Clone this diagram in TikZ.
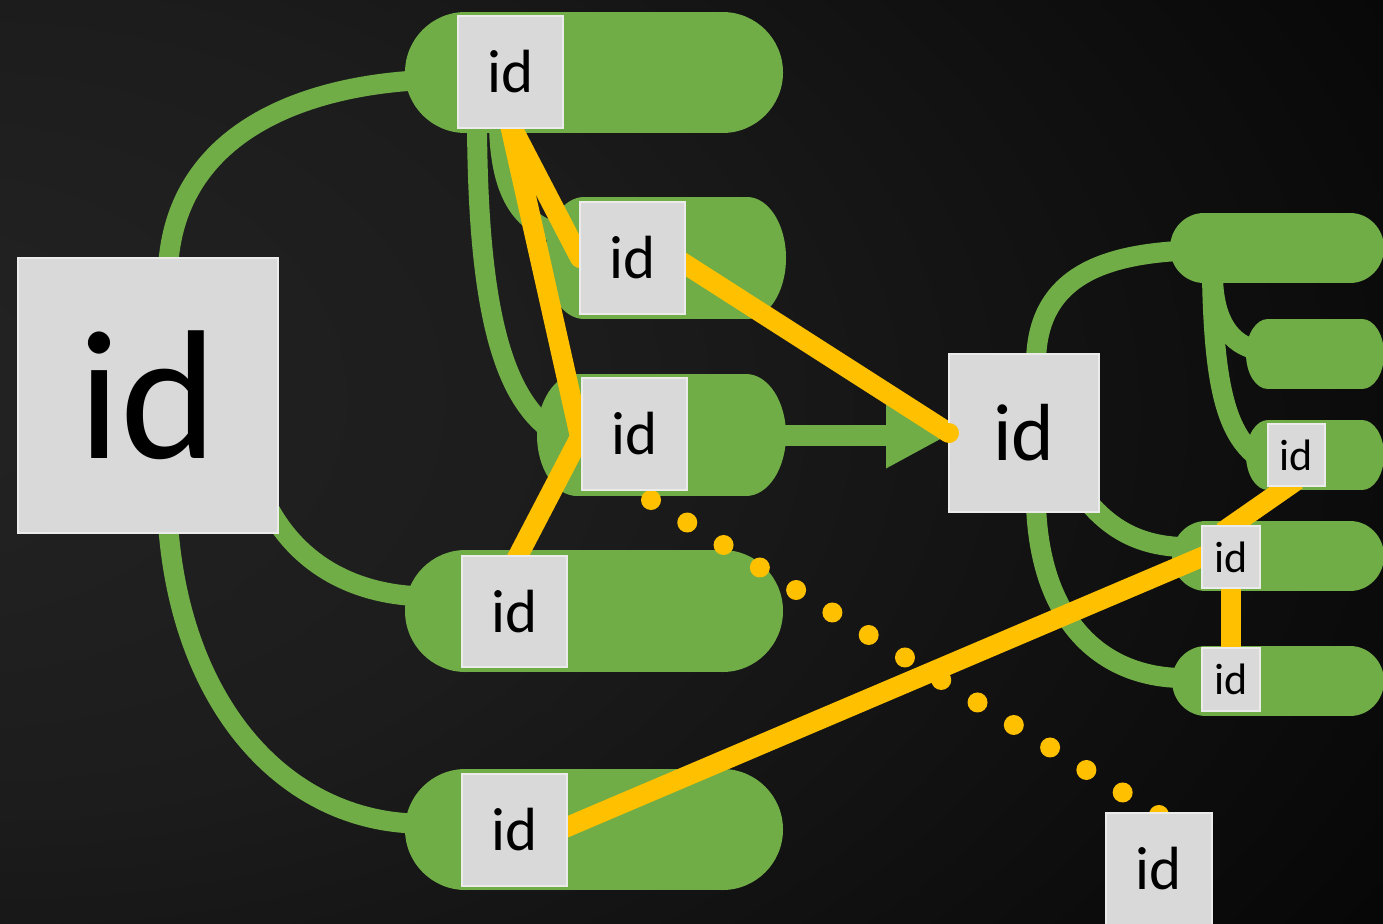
\documentclass[tikz,border=0pt]{standalone}
\usepackage{fontspec}
\setmainfont{Carlito}
\usetikzlibrary{calc,arrows.meta}
\pgfdeclarelayer{bgl}
\pgfdeclarelayer{greenl}
\pgfdeclarelayer{pilll}
\pgfdeclarelayer{yell}
\pgfdeclarelayer{topl}
\pgfsetlayers{bgl,greenl,pilll,yell,main,topl}
\definecolor{grn}{HTML}{70AD47}
\definecolor{yel}{HTML}{FFC000}
\definecolor{boxfill}{HTML}{D9D9D9}
\definecolor{boxedge}{HTML}{EBEBEB}
\definecolor{bgA}{HTML}{242424}
\definecolor{bgB}{HTML}{1C1C1C}
\definecolor{bgC}{HTML}{070707}
\definecolor{bgD}{HTML}{030303}
\pgfdeclareradialshading{bgsh}{\pgfpoint{-32bp}{4bp}}{color(0bp)=(bgA); color(22bp)=(bgB); color(50bp)=(bgC); color(110bp)=(bgD)}
\newcommand\pillfill[3]{%
  \fill[grn] ($(#1.west)+(#2,0)$) ellipse [x radius=#2, y radius=#3];
  \fill[grn] ($(#1.east)+(-#2,0)$) ellipse [x radius=#2, y radius=#3];
  \fill[grn] ($(#1.north west)+(#2,0)$) rectangle ($(#1.south east)+(-#2,0)$);}
\tikzset{
  idbox/.style={fill=boxfill, draw=boxedge, line width=2pt, inner sep=0pt, outer sep=0pt, text=black},
  pillnode/.style={inner sep=0pt, outer sep=0pt, draw=none},
  gline/.style={draw=grn, line width=20pt},
  yline/.style={draw=yel, line width=20pt},
  fbig/.style={font=\fontsize{184}{184}\selectfont},
  fmid/.style={font=\fontsize{81}{81}\selectfont},
  fsm/.style={font=\fontsize{61}{61}\selectfont},
  ftiny/.style={font=\fontsize{44}{44}\selectfont},
}
\begin{document}
\begin{tikzpicture}[x=1pt,y=-1pt]
\useasboundingbox (0,0) rectangle (1383,923);
\begin{pgfonlayer}{bgl}
\shade[shading=bgsh] (0,0) rectangle (1383,923);
\end{pgfonlayer}

% id boxes
\node[idbox, fbig, minimum width=260, minimum height=275] (B) at (148,395.5) {id};
\node[idbox, fsm, minimum width=105, minimum height=112] (A1) at (510.5,72) {id};
\node[idbox, fsm, minimum width=105, minimum height=112] (A2) at (632.5,258) {id};
\node[idbox, fsm, minimum width=105, minimum height=112] (A3) at (634.5,434) {id};
\node[idbox, fsm, minimum width=105, minimum height=111] (A4) at (514.5,611.5) {id};
\node[idbox, fsm, minimum width=105, minimum height=112] (A5) at (514.5,830) {id};
\node[idbox, fmid, minimum width=150, minimum height=158] (C) at (1024,433) {id};
\node[idbox, fsm, minimum width=106, minimum height=112] (E) at (1159,869) {id};
\node[idbox, ftiny, minimum width=57, minimum height=62] (R3) at (1296.5,455) {id};
\node[idbox, ftiny, minimum width=58, minimum height=62] (R4) at (1231,557) {id};
\node[idbox, ftiny, minimum width=58, minimum height=63] (R5) at (1231,679.5) {id};

% pill anchors
\node[pillnode, minimum width=378, minimum height=121] (P1) at (594,72.5) {};
\node[pillnode, minimum width=241, minimum height=122] (P2) at (665.5,258) {};
\node[pillnode, minimum width=249, minimum height=122] (P3) at (661.5,435) {};
\node[pillnode, minimum width=378, minimum height=122] (P4) at (594,611) {};
\node[pillnode, minimum width=378, minimum height=121] (P5) at (594,829.5) {};
\node[pillnode, minimum width=214, minimum height=70] (Q1) at (1277,248) {};
\node[pillnode, minimum width=138, minimum height=70] (Q2) at (1315,354) {};
\node[pillnode, minimum width=138, minimum height=70] (Q3) at (1315,455) {};
\node[pillnode, minimum width=212, minimum height=70] (Q4) at (1278,556) {};
\node[pillnode, minimum width=212, minimum height=70] (Q5) at (1278,681) {};

\begin{pgfonlayer}{pilll}
\pillfill{P1}{60.5}{60.5}
\pillfill{P2}{39}{61}
\pillfill{P3}{40}{61}
\pillfill{P4}{60.5}{61}
\pillfill{P5}{60.5}{60.5}
\pillfill{Q1}{34}{35}
\pillfill{Q2}{22}{35}
\pillfill{Q3}{22}{35}
\pillfill{Q4}{34}{35}
\pillfill{Q5}{34}{35}
\end{pgfonlayer}

\begin{pgfonlayer}{greenl}
\draw[gline] ($(B.north)+(20,10)$) .. controls +(7,-128) and +(-125,8) .. ($(P1.west)+(10,8)$);
\draw[gline] ($(B.south east)+(-12,-30)$) .. controls +(34,67) and +(-53,-3.5) .. ($(P4.west)+(8,-15)$);
\draw[gline] ($(B.south)+(20,-10)$) .. controls +(12,177) and +(-133,-5.5) .. ($(P5.west)+(8,-6)$);
\draw[gline] ($(P1.south west)+(72,-8)$) .. controls +(1,175) and +(-48,-38) .. ($(P3.west)+(11,-7)$);
\draw[gline] ($(P1.south west)+(94,-8)$) .. controls +(1,65) and +(-35,-10) .. ($(P2.west)+(10,-26)$);
\draw[gline, line width=21pt, -{Triangle[length=63pt,width=62pt]}] ($(P3.east)+(-10,0)$) -- (P3.east -| C.west);
\draw[gline] ($(C.north)+(12,10)$) .. controls +(0,-84) and +(-80,5) .. ($(Q1.west)+(8,3)$);
\draw[gline] ($(C.south east)+(-15,-15)$) .. controls +(26,33) and +(-40,-2) .. ($(Q4.west)+(8,-9)$);
\draw[gline] ($(C.south)+(12,-7)$) .. controls +(4,115) and +(-80,-2) .. ($(Q5.west)+(8,-3)$);
\draw[gline] ($(Q1.south west)+(42,-5)$) .. controls +(2,102) and +(-30,-25) .. ($(Q3.west)+(9,0)$);
\draw[gline] ($(Q1.south west)+(43,-5)$) .. controls +(1,42) and +(-28,-5) .. ($(Q2.west)+(12,-4)$);
\end{pgfonlayer}

\begin{pgfonlayer}{yell}
\draw[yel, line width=20pt, line cap=round, dash pattern=on 0pt off 42.69pt] ($(A3.south)+(16.5,10)$) -- ($(E.north)+(0,2)$);
\draw[yline, line join=miter] ($(A1.south)+(-5,-23)$) -- ($(A3.west)+(-2,3)$) -- ($(A4.north)+(-2,10.6)$);
\draw[yline, line cap=round] ($(A1.south)+(-7.5,-18)$) -- (A2.west);
\draw[yline] ($(A2.east)+(-25,-10)$) -- (C.west);
\draw[yline] ($($(A5.east)+(0,-3)$)!-0.03!(R4.west)$) -- ($(R4.west)!-0.02!(A5.east)$);
\coordinate (y6a) at ($(R3.south)+(-8,0)$);
\draw[yline] ($(y6a)!-0.15!(R4.north)$) -- ($(R4.north)!-0.15!(y6a)$);
\draw[yline] (R4.center) -- (R5.center);
\end{pgfonlayer}

\begin{pgfonlayer}{topl}
\fill[yel] (C.west) circle[radius=10];
\end{pgfonlayer}
\end{tikzpicture}
\end{document}
